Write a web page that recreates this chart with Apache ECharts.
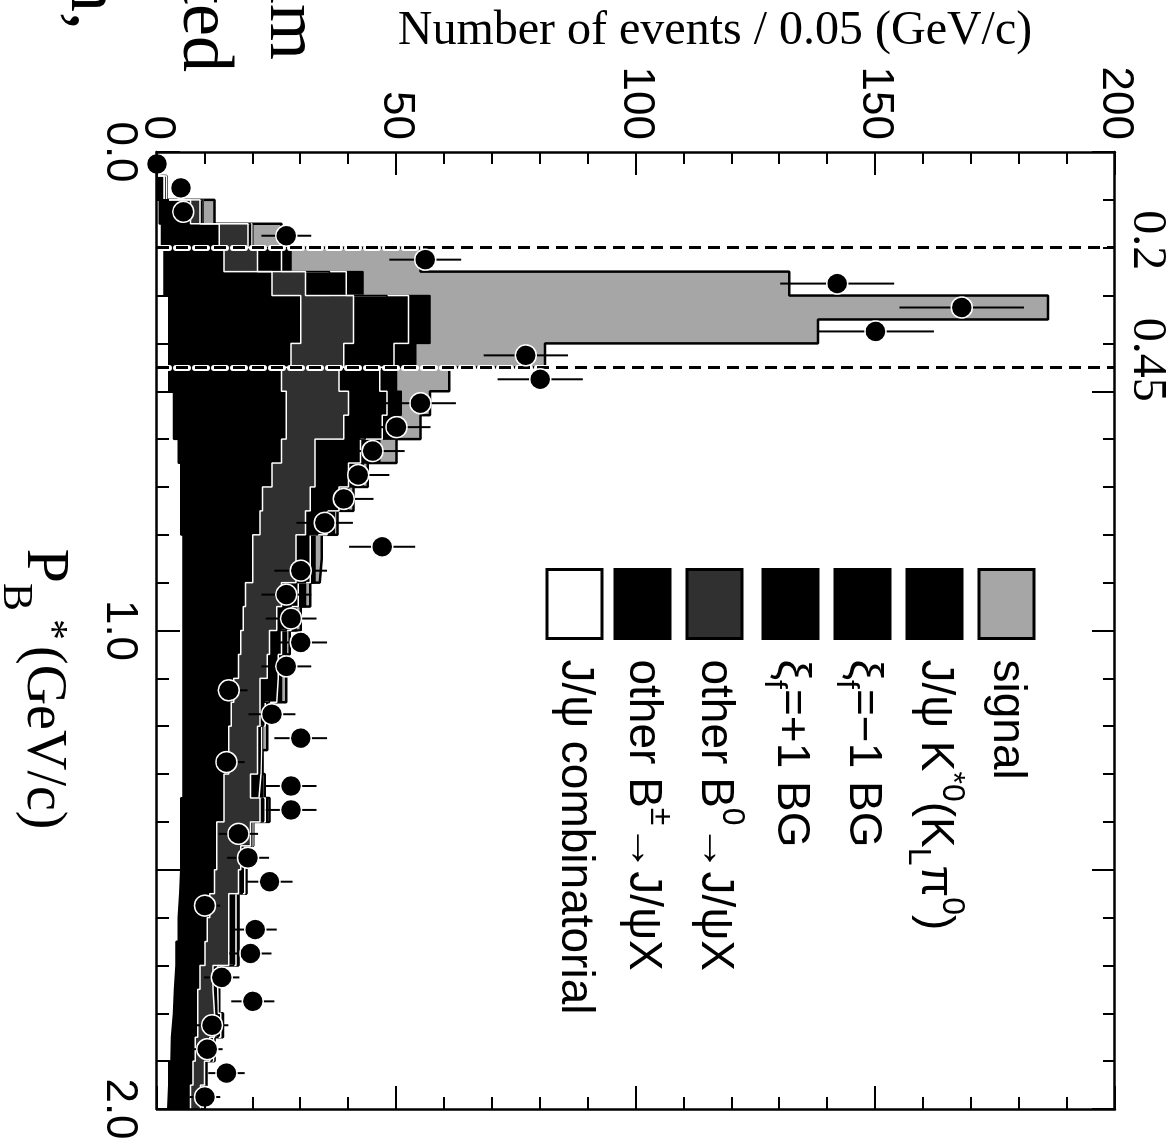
<!DOCTYPE html>
<html><head><meta charset="utf-8">
<script src="https://cdn.jsdelivr.net/npm/echarts@6/dist/echarts.min.js"></script>
<style>
html,body{margin:0;padding:0;width:1175px;height:1146px;overflow:hidden;background:#fff;}
#chart{position:absolute;left:0;top:0;width:1146px;height:1175px;transform-origin:0 0;transform:translate(1175px,0) rotate(90deg);}
</style></head><body><div id="chart"></div>
<script>
// ---- data (P_B* bins of 0.05 GeV/c, 0..2) ----
const binEdges = [0.00,0.05,0.10,0.15,0.20,0.25,0.30,0.35,0.40,0.45,0.50,0.55,0.60,0.65,0.70,0.75,0.80,0.85,0.90,0.95,1.00,1.05,1.10,1.15,1.20,1.25,1.30,1.35,1.40,1.45,1.50,1.55,1.60,1.65,1.70,1.75,1.80,1.85,1.90,1.95,2.00];
const combinatorial = [0,0,0.5,1,1.5,1.5,2.5,2.5,2.5,2.5,3.5,3.5,4.5,5,5,5,5.5,5.5,5.5,5.5,5.5,5.5,5.5,5.5,5.5,5.5,5.5,5,5,5,4.8,4.5,4.5,4,3.7,3.5,3.1,3,2.5,2.3];
const otherBpm = [0,1.5,6.5,12,12.5,22.5,27.5,27.5,25.5,23.5,23.5,23.5,21.5,19,17,16.5,14.5,14.5,13,12.5,12,11.5,10.5,10,9.5,9.5,8.5,9,7.5,7.5,7.2,6.5,6,6,5.3,5,5.4,5,5,4.7];
const otherB0 = [0,0,2,6,7,7,11,11,11,12,13,12,7,9,10,9.5,9,9,7.5,7,6,6,5.5,6,6,6,5.5,7.5,7,5,5,4,4.5,5,2.7,3.5,3.5,3,2.4,2.1];
const xiPlus = [0,0,0.6,0.5,3,5,7,7,6,5,4.5,4.5,5.5,4,3.5,2.5,2,2,2,2,1.5,1.5,2,0.7,0.5,0.4,1,0.7,0.3,0.5,0.8,1,1,1,0.6,0.5,0.8,0.5,0.5,0.5];
const xiMinus = [0,0.5,0,0.3,2,3.5,4.5,4.5,4.5,3.5,3.5,3.5,4,3,2.5,2,1,1,1.5,1,1,0.8,1.5,0.4,0.3,0.3,0.8,0.4,0.2,0.3,0.5,0.5,0.5,0.5,0.4,0.3,0.5,0.3,0,0];
const jpsiKstar = [0,0,0,0.2,2,3.5,4.5,4.5,4.5,3.5,3,3,4,3,2,1.5,1,1,1.5,1,1,0.7,1,0.4,0.2,0.3,0.7,0.4,0.1,0.2,0.4,0.5,0.5,0.5,0.3,0.2,0.5,0.2,0,0];
const signal = [0,0,2.4,6,27,89,129,81,27,11,6,5,3.5,1,1,0.7,1.4,1,1,1,0.7,1,1,0,1,0,0.5,0.5,0,0.2,0,0,0,0,0,0,0,0,0,0];
const dataCounts = [0,5,5.5,27,56,142,168,150,77,80,55,50,45,42,39,35,47,30,27,28,30,27,15,24,30,14.5,28,28,17,19,23.5,10,20.5,19.5,13.5,20,11.5,10.5,14.5,10];
const dataErrors = [0,2.2,2.3,5.2,7.5,11.9,13,12.2,8.8,8.9,7.4,7.1,6.7,6.5,6.2,5.9,6.9,5.5,5.2,5.3,5.5,5.2,3.9,4.9,5.5,3.8,5.3,5.3,4.1,4.4,4.8,3.2,4.5,4.4,3.7,4.5,3.4,3.2,3.8,3.2];
const cutValues = [0.2, 0.45];
const cutLabels = ['0.2', '0.45'];
const pLabelValues = [0, 1, 2];
const pLabelTexts = ['0.0', '1.0', '2.0'];
const countLabelValues = [0, 50, 100, 150, 200];
const countLabelTexts = ['0', '50', '100', '150', '200'];

// ---- styles (stack order: bottom first) ----
const layers = [
  {name:'J/ψ combinatorial', values:combinatorial, fill:'#ffffff', line:'#000000', lw:2},
  {name:'other B±→J/ψX', values:otherBpm, fill:'#000000', line:'#ffffff', lw:1.5},
  {name:'other B0→J/ψX', values:otherB0, fill:'#303030', line:'#ffffff', lw:1.5},
  {name:'ξf=+1 BG', values:xiPlus, fill:'#000000', line:'#000000', lw:1.5},
  {name:'ξf=−1 BG', values:xiMinus, fill:'#000000', line:'#ffffff', lw:1.5},
  {name:'J/ψ K*0(KLπ0)', values:jpsiKstar, fill:'#000000', line:'#000000', lw:1.5},
  {name:'signal', values:signal, fill:'#a6a6a6', line:'#000000', lw:2.5}
];
const legendRich = {
  'signal':'{b|signal}',
  'J/ψ K*0(KLπ0)':'{b|J/ψ K}{sup|*0}{b|(K}{sub|L}{b|π}{sup|0}{b|)}',
  'ξf=−1 BG':'{b|ξ}{sub|f}{b|=−1 BG}',
  'ξf=+1 BG':'{b|ξ}{sub|f}{b|=+1 BG}',
  'other B0→J/ψX':'{b|other B}{sup|0}{b|→J/ψX}',
  'other B±→J/ψX':'{b|other B}{sup|±}{b|→J/ψX}',
  'J/ψ combinatorial':'{b|J/ψ combinatorial}'
};
const legendOrder = layers.slice().reverse();

const SANS = 'Liberation Sans';
const SERIF = 'Liberation Serif';
const chart = echarts.init(document.getElementById('chart'), null, {renderer:'canvas'});

// stacked (cumulative) table, as THStack does; drawn top layer first
const running = binEdges.slice(0, -1).map(() => 0);
const cumulative = layers.map(L => L.values.map((v, i) => (running[i] += v)));
const histSeries = layers.map((L, k) => ({
  type:'line', name:L.name, step:'end', symbol:'none', showSymbol:false,
  data: binEdges.map((e, i) => [e, cumulative[k][Math.min(i, cumulative[k].length - 1)]]),
  lineStyle:{color:L.line, width:L.lw}, areaStyle:{color:L.fill, opacity:1, origin:'start'},
  itemStyle:{color:L.fill}, z:2, silent:true, animation:false
})).reverse();

const binCenters = dataCounts.map((v, i) => (binEdges[i] + binEdges[i + 1]) / 2);
const points = dataCounts.map((v, i) => [binCenters[i], v]);
const errData = dataCounts.map((v, i) => [binCenters[i], v - dataErrors[i], v + dataErrors[i]]);

const tickCommon = {
  axisLine:{show:true, onZero:false, lineStyle:{color:'#000', width:2.5}},
  axisTick:{show:true, inside:true, length:23, lineStyle:{color:'#000', width:2}},
  minorTick:{show:true, splitNumber:5, length:12, lineStyle:{color:'#000', width:2}},
  splitLine:{show:false}, minorSplitLine:{show:false}, z:10
};

const option = {
  animation:false,
  backgroundColor:'#ffffff',
  grid:{left:152, right:37, top:60, bottom:157, containLabel:false, outerBoundsMode:'none'},
  legend:{
    orient:'vertical', left:568, top:139.5, padding:0, itemWidth:69, itemHeight:55, itemGap:10,
    icon:'rect', selectedMode:false,
    data: legendOrder.map(L => ({name:L.name, itemStyle:{color:L.fill, borderColor:'#000', borderWidth:3}})),
    formatter: n => legendRich[n],
    textStyle:{color:'#000', fontFamily:SANS, fontSize:46, padding:[0,0,0,16],
      rich:{
        b:{fontFamily:SANS, fontSize:46, lineHeight:66, color:'#000'},
        sup:{fontFamily:SANS, fontSize:32, lineHeight:32, verticalAlign:'top', color:'#000'},
        sub:{fontFamily:SANS, fontSize:32, lineHeight:32, verticalAlign:'bottom', color:'#000'}
      }}
  },
  xAxis:[
    Object.assign({}, tickCommon, {
      type:'value', position:'bottom', min:0, max:2, interval:0.5,
      axisLabel:{show:true, margin:16, color:'#000', fontFamily:SANS, fontSize:44, lineHeight:44,
        showMinLabel:true, showMaxLabel:true,
        formatter: v => { const k = pLabelValues.findIndex(p => Math.abs(p - v) < 1e-9); return k >= 0 ? pLabelTexts[k] : ''; }},
      name:'{p|P}{sub|B}{sup|*}{t|(GeV/c)}', nameLocation:'middle', nameGap:66,
      nameTextStyle:{color:'#000', fontFamily:SERIF, padding:[0,0,0,117],
        rich:{
          p:{fontFamily:SERIF, fontSize:62, lineHeight:62, padding:[0,0,2,0], color:'#000'},
          sub:{fontFamily:SERIF, fontSize:42, lineHeight:42, padding:[56,0,0,0], color:'#000'},
          sup:{fontFamily:SERIF, fontSize:42, lineHeight:42, padding:[0,0,14,8], color:'#000'},
          t:{fontFamily:SERIF, fontSize:56, lineHeight:56, padding:[0,0,0,6], color:'#000'}
        }}
    }),
    Object.assign({}, tickCommon, {
      type:'value', position:'top', min:0, max:2, interval:0.5, axisLabel:{show:false}
    })
  ],
  yAxis:[
    Object.assign({}, tickCommon, {
      type:'value', position:'left', min:0, max:200, interval:50,
      axisLabel:{show:true, margin:12, color:'#000', fontFamily:SANS, fontSize:44,
        formatter: v => { const k = countLabelValues.indexOf(v); return k >= 0 ? countLabelTexts[k] : ''; }},
      name:'Number of events / 0.05 (GeV/c)', nameLocation:'middle', nameGap:92, nameRotate:90,
      nameTextStyle:{color:'#000', fontFamily:SERIF, fontSize:48, lineHeight:48, padding:[0,0,0,158]}
    }),
    Object.assign({}, tickCommon, {
      type:'value', position:'right', min:0, max:200, interval:50, axisLabel:{show:false}
    })
  ],
  graphic:[
    {type:'text', x:60, y:885, silent:true, style:{text:'um', font:'72px "Liberation Serif"', fill:'#000', textAlign:'right', textVerticalAlign:'middle'}},
    {type:'text', x:72, y:972, silent:true, style:{text:'ted', font:'72px "Liberation Serif"', fill:'#000', textAlign:'right', textVerticalAlign:'middle'}},
    {type:'text', x:30, y:1084, silent:true, style:{text:'n,', font:'72px "Liberation Serif"', fill:'#000', textAlign:'right', textVerticalAlign:'middle'}}
  ],
  series: histSeries.concat([
    {type:'line', name:'cut halo', data:[], silent:true,
      markLine:{silent:true, z:3, symbol:['none','none'], animation:false,
        lineStyle:{color:'#ffffff', width:6, type:[12,7], cap:'round'}, label:{show:false},
        data: cutValues.map(v => ({xAxis:v}))}},
    {type:'line', name:'cuts', data:[], silent:true,
      markLine:{silent:true, z:4, symbol:['none','none'], animation:false,
        lineStyle:{color:'#000000', width:3, type:[12,7]},
        label:{show:true, position:'end', distance:8, color:'#000', fontFamily:SERIF, fontSize:48, padding:[0,15,0,0],
          formatter: p => cutLabels[p.dataIndex]},
        emphasis:{disabled:true},
        data: cutValues.map(v => ({xAxis:v}))}},
    {type:'custom', name:'errors', data:errData, z:5, silent:true, clip:false,
      encode:{x:0, y:[1,2]},
      renderItem:(params, api) => {
        const x = api.value(0), lo = api.value(1), hi = api.value(2);
        const p1 = api.coord([x, lo]), p2 = api.coord([x, hi]);
        return {type:'line', shape:{x1:p1[0], y1:p1[1], x2:p2[0], y2:p2[1]}, style:{stroke:'#000', lineWidth:2}};
      }},
    {type:'scatter', name:'data', data:points, symbol:'circle', symbolSize:21, z:6, silent:true, clip:false,
      itemStyle:{color:'#000', borderColor:'#fff', borderWidth:1.5, opacity:1}}
  ])
};
chart.setOption(option);
</script></body></html>
